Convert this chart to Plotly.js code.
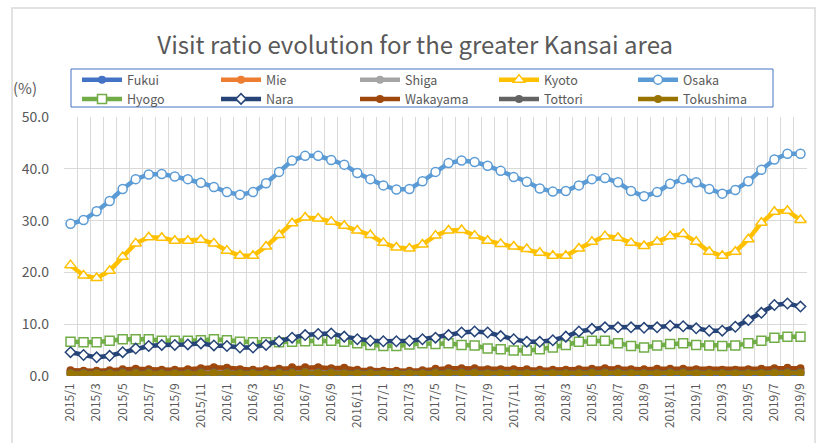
<!DOCTYPE html>
<html>
<head>
<meta charset="utf-8">
<script src="https://cdn.plot.ly/plotly-3.0.1.min.js"></script>
<style>
html,body{margin:0;padding:0;background:#fff;}
#chart{width:819px;height:443px;}
</style>
</head>
<body>
<div id="chart"></div>
<script>
const months = ["2015/1","2015/2","2015/3","2015/4","2015/5","2015/6","2015/7","2015/8","2015/9","2015/10","2015/11","2015/12",
"2016/1","2016/2","2016/3","2016/4","2016/5","2016/6","2016/7","2016/8","2016/9","2016/10","2016/11","2016/12",
"2017/1","2017/2","2017/3","2017/4","2017/5","2017/6","2017/7","2017/8","2017/9","2017/10","2017/11","2017/12",
"2018/1","2018/2","2018/3","2018/4","2018/5","2018/6","2018/7","2018/8","2018/9","2018/10","2018/11","2018/12",
"2019/1","2019/2","2019/3","2019/4","2019/5","2019/6","2019/7","2019/8","2019/9"];

const fukui = [0.3,0.3,0.3,0.3,0.3,0.3,0.3,0.3,0.3,0.3,0.3,0.3,0.3,0.3,0.3,0.3,0.3,0.3,0.3,0.3,0.3,0.3,0.3,0.3,0.3,0.3,0.3,0.3,0.3,0.3,0.3,0.3,0.3,0.3,0.3,0.3,0.3,0.3,0.3,0.3,0.3,0.3,0.3,0.3,0.3,0.3,0.3,0.3,0.3,0.3,0.3,0.3,0.3,0.3,0.3,0.3,0.3];
const mie = [0.9,0.9,0.9,0.9,1.0,1.0,1.0,0.9,0.9,0.9,1.0,1.0,1.0,0.9,0.9,0.9,1.0,1.0,1.1,1.0,1.0,0.9,0.9,0.9,0.9,0.9,0.9,0.9,1.0,1.0,1.0,1.0,0.9,0.9,0.9,0.9,0.9,0.9,0.9,0.9,1.0,1.0,1.0,0.9,0.9,0.9,1.0,1.0,0.9,0.9,0.9,0.9,0.9,0.9,1.0,1.0,1.0];
const shiga = [0.6,0.6,0.6,0.6,0.7,0.7,0.7,0.6,0.6,0.6,0.7,0.7,0.7,0.6,0.6,0.6,0.7,0.7,0.8,0.7,0.7,0.6,0.6,0.6,0.6,0.6,0.6,0.6,0.7,0.7,0.7,0.7,0.6,0.6,0.6,0.6,0.6,0.6,0.6,0.6,0.7,0.7,0.7,0.6,0.6,0.6,0.7,0.7,0.6,0.6,0.6,0.6,0.6,0.6,0.7,0.7,0.7];
const kyoto = [21.4,19.4,18.9,20.3,23.0,25.6,26.8,26.7,26.1,26.1,26.3,25.6,24.2,23.2,23.2,25.0,27.2,29.5,30.6,30.4,29.8,29.0,28.1,27.2,25.7,24.8,24.6,25.4,27.1,28.1,28.2,27.1,26.1,25.5,25.0,24.5,23.8,23.2,23.2,24.6,25.9,27.0,26.7,25.7,25.1,25.9,27.0,27.4,25.9,24.0,23.2,24.0,26.4,29.6,31.7,31.9,30.1];
const osaka = [29.4,30.1,31.8,33.8,36.1,38.0,38.9,39.0,38.5,38.0,37.3,36.5,35.5,35.0,35.5,37.2,39.4,41.6,42.5,42.5,41.7,40.8,39.2,38.0,36.8,36.0,36.1,37.6,39.4,41.1,41.6,41.3,40.6,39.6,38.4,37.5,36.2,35.6,35.7,36.8,38.0,38.2,37.4,35.7,34.7,35.5,37.1,38.0,37.4,36.1,35.2,35.9,37.6,39.8,41.8,42.9,42.9];
const hyogo = [6.6,6.5,6.5,6.8,7.1,7.1,7.1,6.8,6.8,6.8,6.9,7.1,6.9,6.6,6.5,6.5,6.5,6.6,6.7,6.8,6.8,6.6,6.3,6.0,5.8,5.8,6.1,6.3,6.2,6.3,6.0,5.9,5.3,5.15,4.9,4.9,5.15,5.5,6.0,6.6,6.8,6.8,6.3,5.8,5.5,5.9,6.2,6.3,6.0,5.9,5.8,5.9,6.3,6.8,7.4,7.6,7.6];
const nara = [4.6,4.05,3.6,3.9,4.6,5.3,5.8,6.0,6.0,6.1,6.3,5.9,5.8,5.5,5.5,6.0,6.7,7.4,7.9,8.1,8.2,7.6,7.1,6.8,6.7,6.7,6.8,7.1,7.4,7.9,8.4,8.6,8.4,7.7,7.1,6.6,6.6,6.9,7.6,8.6,9.1,9.4,9.4,9.4,9.3,9.4,9.7,9.6,9.2,8.75,8.75,9.5,10.8,12.2,13.7,14.0,13.4];
const wakayama = [1.1,1.0,1.0,1.1,1.3,1.4,1.3,1.2,1.2,1.3,1.5,1.7,1.6,1.3,1.2,1.3,1.4,1.7,1.7,1.7,1.5,1.6,1.2,1.1,1.0,1.0,1.0,1.1,1.4,1.5,1.5,1.5,1.3,1.3,1.3,1.3,1.2,1.2,1.2,1.3,1.4,1.5,1.4,1.3,1.3,1.4,1.4,1.4,1.3,1.2,1.2,1.2,1.3,1.4,1.5,1.6,1.5];
const tottori = [0.6,0.6,0.6,0.6,0.7,0.7,0.7,0.6,0.6,0.6,0.7,0.7,0.7,0.6,0.6,0.6,0.7,0.7,0.8,0.7,0.7,0.6,0.6,0.6,0.6,0.6,0.6,0.6,0.7,0.7,0.7,0.7,0.6,0.6,0.6,0.6,0.6,0.6,0.6,0.6,0.7,0.7,0.7,0.6,0.6,0.6,0.7,0.7,0.6,0.6,0.6,0.6,0.6,0.6,0.7,0.7,0.7];
const tokushima = [0.5,0.5,0.5,0.5,0.6,0.6,0.6,0.5,0.5,0.5,0.6,0.6,0.6,0.5,0.5,0.5,0.6,0.6,0.7,0.6,0.6,0.5,0.5,0.5,0.5,0.5,0.5,0.5,0.6,0.6,0.6,0.6,0.5,0.5,0.5,0.5,0.5,0.5,0.5,0.5,0.6,0.6,0.6,0.5,0.5,0.5,0.6,0.6,0.5,0.5,0.5,0.5,0.5,0.5,0.6,0.6,0.6];

const tickText = ["2015/1","","2015/3","","2015/5","","2015/7","","2015/9","","2015/11","",
"2016/1","","2016/3","","2016/5","","2016/7","","2016/9","","2016/11","",
"2017/1","","2017/3","","2017/5","","2017/7","","2017/9","","2017/11","",
"2018/1","","2018/3","","2018/5","","2018/7","","2018/9","","2018/11","",
"2019/1","","2019/3","","2019/5","","2019/7","","2019/9"];

const names = ["Fukui","Mie","Shiga","Kyoto","Osaka","Hyogo","Nara","Wakayama","Tottori","Tokushima"];
const series = [fukui,mie,shiga,kyoto,osaka,hyogo,nara,wakayama,tottori,tokushima];
const colors = ["#4472c4","#ed7d31","#a5a5a5","#ffc000","#5b9bd5","#70ad47","#264478","#9e480e","#636363","#997300"];
const symbols = ["circle","circle","circle","triangle-up","circle","square","diamond","circle","circle","circle"];
const hollow = [false,false,false,true,true,true,true,false,false,false];
const msize = [8,8,8,10,9,9,8,8,8,8];

const traces = series.map((ys,i)=>({
  type:'scatter', mode:'lines+markers', name:names[i], x:months, y:ys,
  line:{color:colors[i], width:4.5},
  marker:{symbol:symbols[i], size: msize[i],
    color: hollow[i] ? '#ffffff' : colors[i],
    line:{color:colors[i], width: hollow[i] ? 1.5 : 0}}
}));

const fontFam = '"Noto Sans CJK JP", "Noto Sans", sans-serif';
const layout = {
  width:819, height:443,
  margin:{l:64, r:12, t:117, b:67},
  paper_bgcolor:'#ffffff', plot_bgcolor:'#ffffff',
  font:{family:fontFam, color:'#595959'},
  title:{text:'Visit ratio evolution for the greater Kansai area', font:{size:24, color:'#595959', family:fontFam},
    xref:'container', x:0.507, xanchor:'center', yref:'container', y:0.898, yanchor:'middle'},
  showlegend:true,
  legend:{orientation:'h', x:(77-64)/743, xanchor:'left', y:(376-65)/259, yanchor:'top',
    borderwidth:0, bgcolor:'rgba(0,0,0,0)',
    entrywidth:84, entrywidthmode:'pixels', font:{size:12.5, color:'#595959'},
    tracegroupgap:0, itemwidth:40},
  xaxis:{type:'category', tickmode:'array', tickvals:months, ticktext:tickText, tickangle:-90,
    tickson:'boundaries', showgrid:true, gridcolor:'#d9d9d9', gridwidth:1, ticks:'',
    showline:false, zeroline:false, tickfont:{size:12, color:'#595959'}, ticklabelstandoff:4,
    range:[-0.5,56.5], fixedrange:true},
  yaxis:{range:[0,50], dtick:10, tick0:0, tickformat:'.1f', showgrid:true, gridcolor:'#d9d9d9', gridwidth:1,
    zeroline:false, showline:false, ticks:'', tickfont:{size:14, color:'#595959'}, ticklabelstandoff:14, fixedrange:true},
  annotations:[{text:'(%)', xref:'paper', yref:'paper', x:-0.0525, y:1.112, xanchor:'center', yanchor:'middle',
    showarrow:false, font:{size:15, color:'#595959'}}],
  shapes:[
    {type:'rect', xref:'paper', yref:'paper', x0:(12-64)/743, x1:(815-64)/743, y0:(376-445)/259, y1:(376-8)/259,
     line:{color:'#d9d9d9', width:1.5}, fillcolor:'rgba(0,0,0,0)', layer:'below'},
    {type:'rect', xref:'paper', yref:'paper', x0:(71-64)/743, x1:(773-64)/743, y0:(376-107)/259, y1:(376-69)/259,
     line:{color:'#4472c4', width:1}, fillcolor:'rgba(0,0,0,0)', layer:'above'}
  ]
};

Plotly.newPlot('chart', traces, layout, {displayModeBar:false, staticPlot:true});
</script>
</body>
</html>
